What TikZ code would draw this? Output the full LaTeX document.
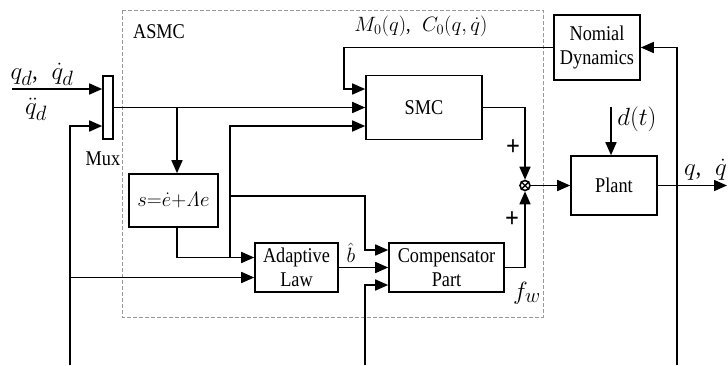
\documentclass[tikz,border=0pt]{standalone}
\usepackage[no-math]{fontspec}
\setmainfont[FakeStretch=0.87]{Liberation Serif}
\usetikzlibrary{arrows.meta}
\tikzset{
  block/.style={draw=black, line width=1.6pt, fill=white, inner sep=0pt, align=center, font=\fontsize{21}{24}\selectfont},
  muxbar/.style={draw=black, line width=1.6pt, fill=white, inner sep=0pt, minimum width=10pt, minimum height=63pt},
  sumnode/.style={draw=black, line width=1.6pt, circle, fill=white, inner sep=0pt, minimum size=10pt},
  sig/.style={line width=1.6pt, draw=black, -{Triangle[length=13pt,width=11pt]}},
  asmcbox/.style={draw=black!40, line width=0.6pt, dash pattern=on 4pt off 2pt},
  txt/.style={font=\fontsize{21}{24}\selectfont, inner sep=0pt},
  mathlbl/.style={font=\fontsize{20.74}{24}\selectfont, inner sep=0pt},
  bigmath/.style={font=\fontsize{24.88}{28}\selectfont, inner sep=0pt},
  pluslbl/.style={font=\fontsize{28}{28}\selectfont\bfseries, inner sep=0pt},
}

\begin{document}
\begin{tikzpicture}[x=1pt,y=-1pt]
\useasboundingbox (0,0) rectangle (728,365);
\draw[asmcbox] (122,10) rectangle (543,317);
\node[txt] (asmclbl) at (159,32) {ASMC};
% blocks
\node[muxbar] (mux) at (108,107.5) {};
\node[txt] (muxlbl) at (103,159) {Mux};
\node[block, minimum width=116pt, minimum height=64pt] (smc) at (424,107.5) {SMC};
\node[block, minimum width=89pt, minimum height=53pt, font=\fontsize{20.74}{24}\selectfont] (sbox) at (173.5,200.5) {$s{=}\dot e{+}\mathit{\Lambda} e$};
\node[block, minimum width=83pt, minimum height=49pt] (alaw) at (296.5,267.5) {Adaptive\\Law};
\node[block, minimum width=115pt, minimum height=49pt] (comp) at (446.5,267.5) {Compensator\\Part};
\node[sumnode] (sum) at (525,185.5) {};
\draw[line width=1.4pt] (sum.north west) -- (sum.south east) (sum.north east) -- (sum.south west);
\node[block, minimum width=86pt, minimum height=59pt] (plant) at (614,185.5) {Plant};
\node[block, minimum width=86pt, minimum height=65pt] (nd) at (597,47.5) {Nomial\\Dynamics};
% ends and branch points
\coordinate (qd) at (12,89);
\coordinate (fbl) at (70,365);
\coordinate (fbm) at (365,365);
\coordinate (fbr) at (677,365);
\coordinate (jmux) at (177,107.5);
\coordinate (js) at (230,257.5);
\coordinate (jsc) at (230,196);
\coordinate (jfb) at (70,277.5);
\coordinate (dist) at (611,107);
\coordinate (qout) at (727,185.5);
% signals
\draw[sig] (qd) -- (qd -| mux.west);
\draw[sig] (fbl) |- ([yshift=-18.5pt]mux.west);
\draw[sig] (jfb) -- (jfb -| alaw.west);
\draw[sig] (mux.east) -- (smc.west);
\draw[sig] (jmux) -- (jmux |- sbox.north);
\draw[sig] (jmux |- sbox.south) |- ([yshift=10pt]alaw.west);
\draw[sig] (js) |- ([yshift=-18.5pt]smc.west);
\draw[sig] (jsc) -- ++(135,0) |- ([yshift=17.5pt]comp.west);
\draw[sig] (alaw.east) -- (comp.west);
\draw[sig] (fbm) |- ([yshift=-17.5pt]comp.west);
\draw[sig] (smc.east) -| (sum.north);
\draw[sig] (comp.east) -| (sum.south);
\draw[sig] (sum.east) -- (plant.west);
\draw[sig] (dist) -- (dist |- plant.north);
\draw[sig] (plant.east) -- (qout);
\draw[sig] (fbr) |- (nd.east);
\draw[sig] (nd.west) -- ++(-209,0) |- ([yshift=18.5pt]smc.west);
% labels
\node[bigmath] (qdlbl) at (42,74) {$q_d$,\;\;$\dot q_d$};
\node[bigmath] (qddlbl) at (36,109) {$\ddot q_d$};
\node[mathlbl] (mclbl) at (421,26) {$M_0(q)$,\;\;$C_0(q,\dot q)$};
\node[bigmath] (dtlbl) at (637,119) {$d(t)$};
\node[bigmath, anchor=west] (qlbl) at (684,170) {$q$,\;\;$\dot q$};
\node[mathlbl] (bhat) at (351,253) {$\hat b$};
\node[bigmath] (fwlbl) at (527,293) {$f_w$};
\node[pluslbl] (plusa) at (513,148) {+};
\node[pluslbl] (plusb) at (512,220) {+};
\end{tikzpicture}
\end{document}
